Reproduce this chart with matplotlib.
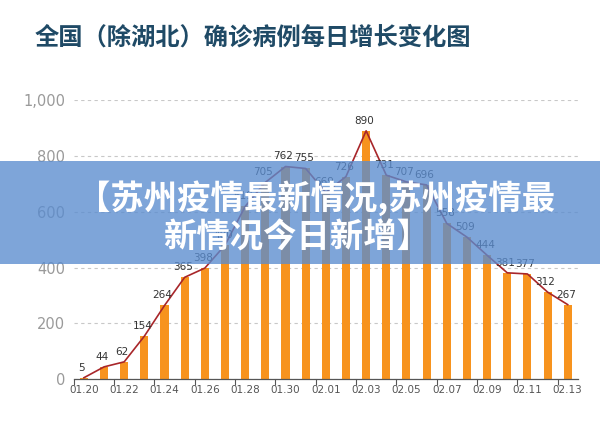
import matplotlib
matplotlib.use("Agg")
import matplotlib.pyplot as plt
from matplotlib.patches import Rectangle
import numpy as np

plt.rcParams['font.family'] = ['Noto Sans CJK SC', 'DejaVu Sans']

dates = ["01.20", "01.21", "01.22", "01.23", "01.24", "01.25", "01.26", "01.27",
         "01.28", "01.29", "01.30", "01.31", "02.01", "02.02", "02.03", "02.04",
         "02.05", "02.06", "02.07", "02.08", "02.09", "02.10", "02.11", "02.12", "02.13"]
values = [5, 44, 62, 154, 264, 365, 398, 480, 619, 705, 762, 755, 669, 726, 890,
          731, 707, 696, 558, 509, 444, 381, 377, 312, 267]
yticks = [0, 200, 400, 600, 800, 1000]
ytick_labels = ["0", "200", "400", "600", "800", "1,000"]
title = "全国（除湖北）确诊病例每日增长变化图"
banner_lines = ["【苏州疫情最新情况,苏州疫情最", "新情况今日新增】"]

fig = plt.figure(figsize=(6.0, 4.26), dpi=100)
ax = fig.add_axes([0.123, 0.110, 0.840, 0.655])

x = np.arange(len(dates))
ax.bar(x, values, width=0.4, color="#F7931E", zorder=2)
ax.plot(x, values, color="#A8262A", lw=1.2, zorder=3)
for xi, v in zip(x, values):
    ax.text(xi - 0.1, v + 18, str(v), ha="center", va="bottom", fontsize=7.5,
            color="#333333", zorder=4, family="DejaVu Sans")

ax.set_xlim(-0.5, len(dates) - 0.5)
ax.set_ylim(0, 1000)
ax.set_yticks(yticks)
ax.set_yticklabels(ytick_labels, family="DejaVu Sans")
ax.set_xticks(x[::2])
ax.set_xticklabels(dates[::2], family="DejaVu Sans")
ax.set_xticks(np.arange(-0.5, len(dates), 2), minor=True)
ax.tick_params(axis="x", which="major", length=0, labelsize=7.5, colors="#555555", pad=4)
ax.tick_params(axis="x", which="minor", length=4, color="#555555", width=0.8)
ax.tick_params(axis="y", length=0, labelsize=10.5, colors="#9A9A9A", pad=6)
ax.grid(axis="y", linestyle=(0, (3, 3)), color="#C8C8C8", lw=0.8, zorder=0)
for s in ["top", "right", "left"]:
    ax.spines[s].set_visible(False)
ax.spines["bottom"].set_color("#555555")
ax.spines["bottom"].set_linewidth(0.9)

fig.text(0.058, 0.911, title, fontsize=17.5, fontweight="bold", color="#1F4A66",
         ha="left", va="center")

# Semi-transparent banner overlay
fig.patches.append(Rectangle((0, 0.380), 1.0, 0.242, transform=fig.transFigure,
                             facecolor="#5A8CCF", alpha=0.78, zorder=10))
fig.text(0.527, 0.535, banner_lines[0], fontsize=24, fontweight="bold", color="white",
         ha="center", va="center", zorder=11)
fig.text(0.495, 0.441, banner_lines[1], fontsize=24, fontweight="bold", color="white",
         ha="center", va="center", zorder=11)

fig.savefig("out.png", dpi=100)
